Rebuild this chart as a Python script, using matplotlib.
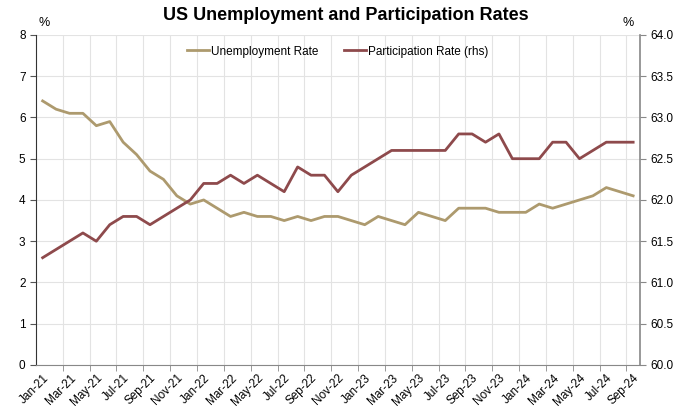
import numpy as np
import pandas as pd
import matplotlib
matplotlib.use("Agg")
import matplotlib.pyplot as plt

plt.rcParams['font.family'] = ['Liberation Sans', 'DejaVu Sans']

months = pd.date_range("2021-01-01", "2024-09-01", freq="MS")
labels = [m.strftime("%b-%y") for m in months]

unemployment = [6.4, 6.2, 6.1, 6.1, 5.8, 5.9, 5.4, 5.1, 4.7, 4.5, 4.1, 3.9,
                4.0, 3.8, 3.6, 3.7, 3.6, 3.6, 3.5, 3.6, 3.5, 3.6, 3.6, 3.5,
                3.4, 3.6, 3.5, 3.4, 3.7, 3.6, 3.5, 3.8, 3.8, 3.8, 3.7, 3.7,
                3.7, 3.9, 3.8, 3.9, 4.0, 4.1, 4.3, 4.2, 4.1]
participation = [61.3, 61.4, 61.5, 61.6, 61.5, 61.7, 61.8, 61.8, 61.7, 61.8, 61.9, 62.0,
                 62.2, 62.2, 62.3, 62.2, 62.3, 62.2, 62.1, 62.4, 62.3, 62.3, 62.1, 62.3,
                 62.4, 62.5, 62.6, 62.6, 62.6, 62.6, 62.6, 62.8, 62.8, 62.7, 62.8, 62.5,
                 62.5, 62.5, 62.7, 62.7, 62.5, 62.6, 62.7, 62.7, 62.7]

c_unemp = "#AD9A6E"
c_part = "#8E4A4C"

x = np.arange(len(labels))

fig = plt.figure(figsize=(6.91, 4.11), dpi=100)
ax = fig.add_axes([0.052, 0.112, 0.874, 0.803])
ax2 = ax.twinx()

l1, = ax.plot(x, unemployment, color=c_unemp, lw=2, label="Unemployment Rate")
l2, = ax2.plot(x, participation, color=c_part, lw=2, label="Participation Rate (rhs)")

ax.set_xlim(-0.5, len(x) - 0.5)
ax.set_ylim(0, 8)
ax2.set_ylim(60, 64)
ax.set_yticks(range(0, 9))
ax2.set_yticks(np.arange(60, 64.01, 0.5))
ax2.set_yticklabels([f"{v:.1f}" for v in np.arange(60, 64.01, 0.5)])

# labels on every second month, grid and ticks on category boundaries
ax.set_xticks(x[::2])
ax.set_xticklabels(labels[::2], rotation=45, ha="right", rotation_mode="anchor")
ax.set_xticks(np.arange(1.5, len(x) - 0.5, 2), minor=True)
ax.tick_params(axis="x", which="major", length=0, labelsize=8.5, pad=5)
ax.tick_params(axis="x", which="minor", length=4, color="#888888")
ax.grid(True, which="minor", axis="x", color="#E3E3E3", lw=0.8)
ax.grid(True, which="major", axis="y", color="#E3E3E3", lw=0.8)
ax.set_axisbelow(True)

ax.tick_params(axis="y", labelsize=8.5, length=4, color="#555555")
ax2.tick_params(axis="y", labelsize=8.5, length=4, color="#888888")

for s in ["top", "right"]:
    ax.spines[s].set_visible(False)
ax2.spines["top"].set_visible(False)
ax2.spines["left"].set_visible(False)
ax2.spines["bottom"].set_visible(False)
ax.spines["left"].set_color("#333333")
ax.spines["bottom"].set_color("#888888")
ax2.spines["right"].set_color("#888888")
ax2.spines["right"].set_linewidth(1.2)

fig.text(0.5, 0.962, "US Unemployment and Participation Rates", ha="center",
         va="center", fontsize=13, fontweight="bold")
fig.text(0.064, 0.945, "%", ha="center", va="center", fontsize=9)
fig.text(0.909, 0.945, "%", ha="center", va="center", fontsize=9)

ax.legend(handles=[l1, l2], loc="upper center", bbox_to_anchor=(0.5, 1.0), ncol=2,
          frameon=False, fontsize=8.5, handlelength=1.8, handletextpad=0.2,
          columnspacing=2.2)

fig.savefig("out.png", dpi=100)
